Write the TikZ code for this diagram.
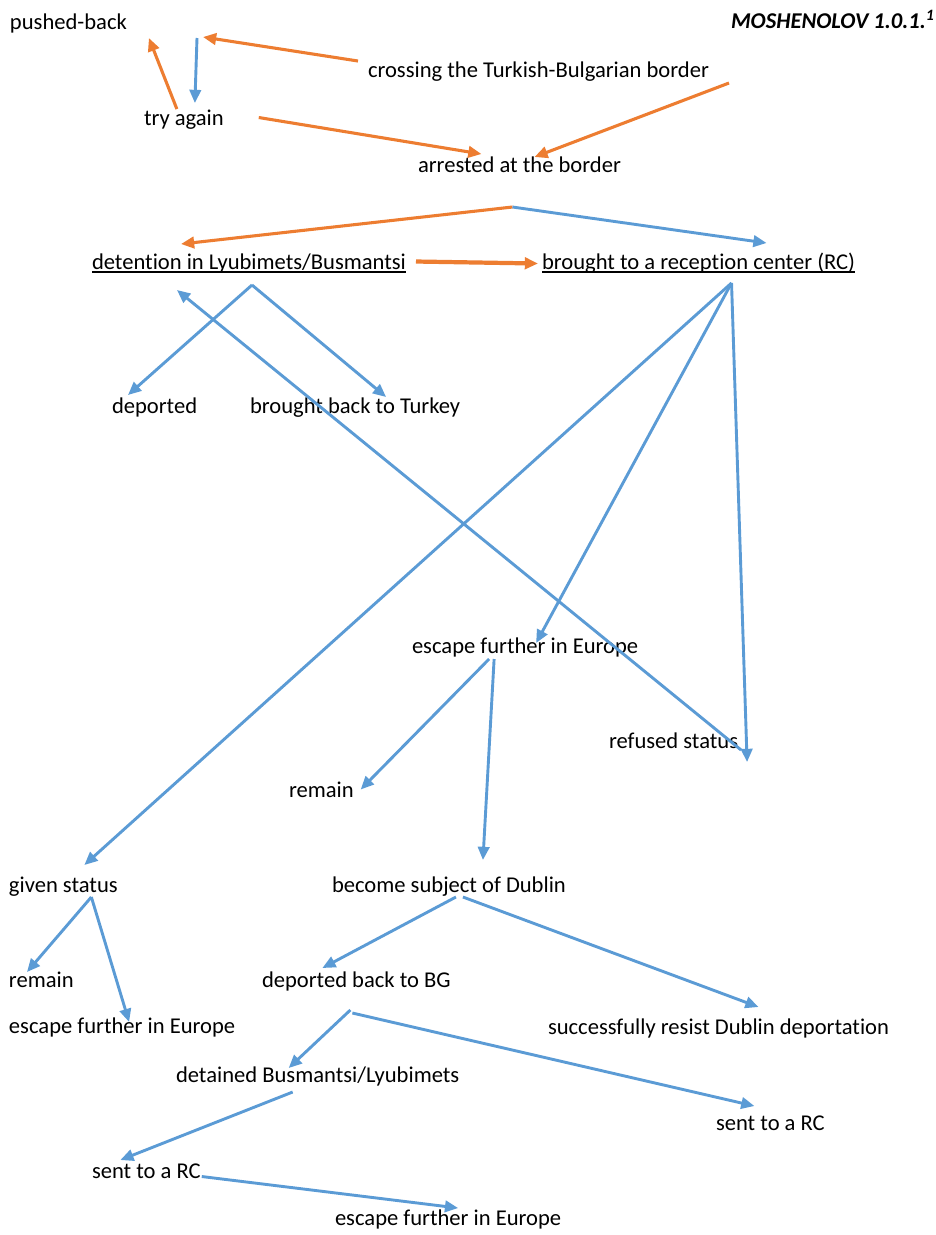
\documentclass[tikz,border=0pt]{standalone}
\usepackage{fontspec}
\setmainfont{Carlito}[RawFeature={-liga;-clig;-calt;-dlig}]
\usetikzlibrary{arrows.meta}
\definecolor{flowblue}{HTML}{5B9BD5}
\definecolor{floworange}{HTML}{ED7D31}
\newsavebox{\undlbox}
\newcommand{\undl}[1]{\sbox\undlbox{#1}\rlap{\rule[-2.2pt]{\wd\undlbox}{0.8pt}}\usebox\undlbox}
\tikzset{
  lbl/.style={anchor=base west,inner sep=0pt,outer sep=0pt,text height=9.1pt,text depth=2.85pt,
    font=\fontsize{12.85}{15}\selectfont},
  bluearr/.style={draw=flowblue,line width=1.65pt,-{Triangle[length=7.5pt,width=6.5pt]}},
  orangearr/.style={draw=floworange,line width=1.75pt,-{Triangle[length=7.5pt,width=6.5pt]}}
}
\begin{document}
\begin{tikzpicture}[x=0.02cm,y=-0.02cm]
  \useasboundingbox (0,0) rectangle (936,1235);
  % texts
  \node[lbl] (push) at (10,29) {pushed-back};
  \node[lbl] (title) at (731,28) {\textbf{\textit{MOSHENOLOV 1.0.1.}}\textsuperscript{\textbf{\textit{1}}}};
  \node[lbl] (cross) at (368,77) {crossing the Turkish-Bulgarian border};
  \node[lbl] (tryag) at (144,125) {try again};
  \node[lbl] (arrest) at (418,172) {arrested at the border};
  \node[lbl] (det) at (92,269) {\undl{detent\kern0pt ion in Lyubimets/Busmantsi}};
  \node[lbl] (rc) at (542,269) {\undl{brought to a recept\kern0pt ion center (RC)}};
  \node[lbl] (deport) at (112,413) {deported};
  \node[lbl] (turkey) at (250,413) {brought back to Turkey};
  \node[lbl] (esc) at (412,653) {escape further in Europe};
  \node[lbl] (refused) at (609,748) {refused status};
  \node[lbl] (remainA) at (289,797) {remain};
  \node[lbl] (given) at (9,892) {given status};
  \node[lbl] (dublin) at (332,892) {become subject of Dublin};
  \node[lbl] (remainB) at (9,987) {remain};
  \node[lbl] (bg) at (262,987) {deported back to BG};
  \node[lbl] (escB) at (9,1033) {escape further in Europe};
  \node[lbl] (resist) at (548,1034) {successfully resist Dublin deportat\kern0pt ion};
  \node[lbl] (detained) at (176,1082) {detained Busmantsi/Lyubimets};
  \node[lbl] (sentA) at (716,1130) {sent to a RC};
  \node[lbl] (sentB) at (92,1178) {sent to a RC};
  \node[lbl] (escC) at (335,1225) {escape further in Europe};
  % fork points
  \coordinate (retry) at (200,37);
  \coordinate (arrfork) at ([shift={(-7,30)}]arrest.south);
  \coordinate (detfork) at ([shift={(3,11)}]det.south);
  \coordinate (rcfork) at ([shift={(33,9)}]rc.south);
  \coordinate (escfork) at ([shift={(-34,1)}]esc.south);
  \coordinate (givfork) at ([shift={(28,0)}]given.south);
  \coordinate (dubfork) at ([shift={(10,0)}]dublin.south);
  \coordinate (bgfork) at ([shift={(-6,18)}]bg.south);
  % orange arrows
  \draw[orangearr] ([shift={(-10,0)}]cross.north west) -- ([shift={(3,0)}]retry);
  \draw[orangearr] ([shift={(-7,0)}]tryag.north) -- ([shift={(22,25)}]push.north east);
  \draw[orangearr] ([shift={(35,-2)}]tryag.east) -- ([shift={(-38,-2)}]arrest.north);
  \draw[orangearr] ([shift={(20,1)}]cross.south east) -- ([shift={(15,1)}]arrest.north);
  \draw[orangearr] (arrfork) -- ([shift={(-68,-9)}]det.north);
  \draw[orangearr,line width=2.4pt] ([shift={(10,-2)}]det.east) -- ([shift={(-4,0)}]rc.west);
  % blue arrows
  \draw[bluearr] ([shift={(-3,1)}]retry) -- ([shift={(11,-6)}]tryag.north);
  \draw[bluearr] (arrfork) -- ([shift={(68,-10)}]rc.north);
  \draw[bluearr] (detfork) -- ([shift={(16,-2)}]deport.north west);
  \draw[bluearr] (detfork) -- ([shift={(31,0)}]turkey.north);
  \draw[bluearr] ([shift={(3,-3)}]refused.south east) -- ([shift={(-72,16)}]det.south);
  \draw[bluearr] (rcfork) -- ([shift={(9,9)}]refused.south east);
  \draw[bluearr] (rcfork) -- ([shift={(11,6)}]esc.north);
  \draw[bluearr] (rcfork) -- ([shift={(21,-11)}]given.north);
  \draw[bluearr] ([shift={(-2,0)}]escfork) -- ([shift={(7,-2)}]remainA.east);
  \draw[bluearr] ([shift={(3,0)}]escfork) -- ([shift={(34,-16)}]dublin.north);
  \draw[bluearr] (givfork) -- ([shift={(18,1)}]remainB.north west);
  \draw[bluearr] (givfork) -- ([shift={(7,5)}]escB.north);
  \draw[bluearr] ([shift={(-3,0)}]dubfork) -- ([shift={(-34,-3)}]bg.north);
  \draw[bluearr] ([shift={(4,0)}]dubfork) -- ([shift={(40,-11)}]resist.north);
  \draw[bluearr] (bgfork) -- ([shift={(-29,2)}]detained.north);
  \draw[bluearr] ([shift={(2,3)}]bgfork) -- ([shift={(-16,-8)}]sentA.north);
  \draw[bluearr] ([shift={(-25,5)}]detained.south) -- ([shift={(-26,-2)}]sentB.north);
  \draw[bluearr] ([shift={(1,4)}]sentB.east) -- ([shift={(10,-1)}]escC.north);
\end{tikzpicture}
\end{document}
